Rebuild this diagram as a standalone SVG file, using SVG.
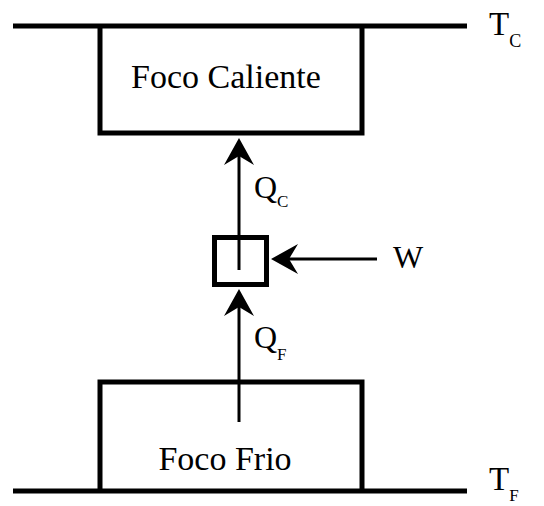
<svg xmlns="http://www.w3.org/2000/svg" width="544" height="506" viewBox="0 0 544 506">
<style>
.thick{fill:none;stroke:#000;stroke-width:5}
.conn{fill:none;stroke:#000;stroke-width:3}
.t{fill:#000}
</style>
<defs>
<marker id="ah" markerUnits="userSpaceOnUse" viewBox="0 -16 30 32" markerWidth="30" markerHeight="32" refX="9" refY="0" orient="auto" overflow="visible">
<path d="M27,0 L0,15 L9,0 L0,-15 Z" fill="#000"/>
</marker>
</defs>
<rect width="544" height="506" fill="#fff"/>
<g font-family="'Liberation Serif', 'DejaVu Serif', serif">
<g id="reservoir-hot">
<line class="thick" x1="13" y1="26" x2="467" y2="26"/>
<polyline class="thick" points="100,26 100,133 362,133 362,26"/>
<text class="t" x="226" y="88" font-size="34" text-anchor="middle">Foco Caliente</text>
<text class="t" x="489" y="35" font-size="33">T<tspan font-size="18" dy="12">C</tspan></text>
</g>
<g id="reservoir-cold">
<line class="thick" x1="13" y1="491" x2="467" y2="491"/>
<polyline class="thick" points="100,491 100,382 362,382 362,491"/>
<text class="t" x="225" y="470" font-size="34" text-anchor="middle">Foco Frio</text>
<text class="t" x="489" y="490" font-size="33">T<tspan font-size="17" dy="11">F</tspan></text>
</g>
<g id="engine">
<rect class="thick" x="214.5" y="237.5" width="52" height="47"/>
</g>
<g id="connectors">
<line class="conn" x1="239" y1="270" x2="239" y2="156" marker-end="url(#ah)"/>
<line class="conn" x1="239" y1="422" x2="239" y2="307" marker-end="url(#ah)"/>
<line class="conn" x1="377" y1="259" x2="289" y2="259" marker-end="url(#ah)"/>
</g>
<g id="labels">
<text class="t" x="254" y="198" font-size="32">Q<tspan font-size="17" dy="9">C</tspan></text>
<text class="t" x="254" y="348" font-size="32">Q<tspan font-size="17" dy="12">F</tspan></text>
<text class="t" x="393" y="268" font-size="32">W</text>
</g>
</g>
</svg>
